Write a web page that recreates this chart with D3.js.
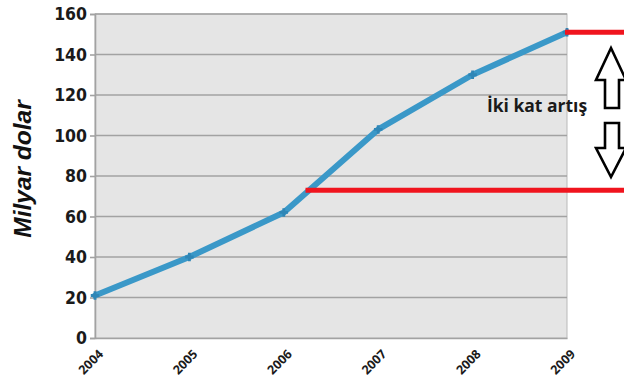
<!DOCTYPE html>
<html>
<head>
<meta charset="utf-8">
<script src="https://cdn.jsdelivr.net/npm/d3@7"></script>
<style>
  html, body { margin: 0; padding: 0; background: #fff; }
  svg { display: block; }
</style>
</head>
<body>
<svg id="chart" width="624" height="388"></svg>
<script>
// Yearly totals, billion dollars
const years = ["2004", "2005", "2006", "2007", "2008", "2009"];
const values = [21, 40, 62, 103, 130, 151];
const yTicks = [0, 20, 40, 60, 80, 100, 120, 140, 160];
const yTitle = "Milyar dolar";
const noteText = "İki kat artış";
// levels marked by the red guide lines (start and end of the doubling)
const guideLow = 73;
const guideHigh = 151;
const guideLowStart = 2006.23;

const svg = d3.select("#chart");
const margin = { left: 95, right: 57, top: 14, bottom: 50 };
const W = 624, H = 388;
const x0 = margin.left, x1 = W - margin.right;
const y0 = H - margin.bottom, y1 = margin.top;

const x = d3.scalePoint().domain(years).range([x0, x1]);
const xLin = d3.scaleLinear().domain([+years[0], +years[years.length - 1]]).range([x0, x1]);
const y = d3.scaleLinear().domain([0, 160]).range([y0, y1]);

// plot background
svg.append("rect")
  .attr("x", x0).attr("y", y1)
  .attr("width", x1 - x0).attr("height", y0 - y1)
  .attr("fill", "#e5e5e5")
  .attr("stroke", "#b9b9b9").attr("stroke-width", 1);

// gridlines
svg.append("g")
  .selectAll("line")
  .data(yTicks.filter(d => d > 0))
  .join("line")
  .attr("x1", x0).attr("x2", x1)
  .attr("y1", d => y(d)).attr("y2", d => y(d))
  .attr("stroke", "#a2a2a2").attr("stroke-width", 1.6);

// y axis
const yAxis = svg.append("g")
  .attr("transform", `translate(${x0},0)`)
  .call(d3.axisLeft(y).tickValues(yTicks).tickSize(5).tickPadding(3));
yAxis.select(".domain").attr("stroke", "#a2a2a2").attr("stroke-width", 1.6);
yAxis.selectAll(".tick line").attr("stroke", "#a2a2a2").attr("stroke-width", 1.6);
yAxis.selectAll("text")
  .attr("font-family", "'DejaVu Sans Condensed', 'DejaVu Sans', sans-serif")
  .attr("font-weight", "bold")
  .attr("font-size", 17.5)
  .attr("fill", "#1a1a1a");

// x axis: line only, slanted year labels drawn below
const xAxis = svg.append("g")
  .attr("transform", `translate(0,${y0})`)
  .call(d3.axisBottom(x).tickSize(0).tickFormat(""));
xAxis.select(".domain").attr("stroke", "#a2a2a2").attr("stroke-width", 1.6);

svg.append("g")
  .selectAll("text")
  .data(years)
  .join("text")
  .attr("transform", d => `translate(${x(d) + 9},${y0 + 17}) rotate(-45)`)
  .attr("text-anchor", "end")
  .attr("font-family", "'Open Sans', sans-serif")
  .attr("font-weight", "bold")
  .attr("font-size", 12.5)
  .attr("fill", "#1a1a1a")
  .text(d => d);

// y axis title
svg.append("text")
  .attr("transform", `translate(31,169) rotate(-90)`)
  .attr("text-anchor", "middle")
  .attr("font-family", "'Liberation Sans', Arial, sans-serif")
  .attr("font-weight", "bold")
  .attr("font-style", "italic")
  .attr("font-size", 24.5)
  .attr("fill", "#111")
  .text(yTitle);

// data line
const data = years.map((yr, i) => ({ yr, v: values[i] }));
svg.append("path")
  .datum(data)
  .attr("fill", "none")
  .attr("stroke", "#3a98c8")
  .attr("stroke-width", 6)
  .attr("stroke-linejoin", "round")
  .attr("stroke-linecap", "round")
  .attr("d", d3.line().x(d => x(d.yr)).y(d => y(d.v)));

// point markers
svg.append("g")
  .selectAll("path")
  .data(data)
  .join("path")
  .attr("transform", d => `translate(${x(d.yr)},${y(d.v)})`)
  .attr("d", d3.symbol(d3.symbolCross, 40))
  .attr("fill", "#2f86b6");

// red guide lines
svg.append("line")
  .attr("x1", xLin(guideLowStart)).attr("x2", W)
  .attr("y1", y(guideLow)).attr("y2", y(guideLow))
  .attr("stroke", "#f0141e").attr("stroke-width", 5);
svg.append("line")
  .attr("x1", x1 - 2).attr("x2", W)
  .attr("y1", y(guideHigh)).attr("y2", y(guideHigh))
  .attr("stroke", "#f0141e").attr("stroke-width", 5);

// hollow arrows
const ax = 611;
const upArrow = [[ax, 48], [ax + 15, 80], [ax + 8, 80], [ax + 8, 108], [ax - 6, 108], [ax - 6, 80], [ax - 15, 80]];
const downArrow = [[ax - 6, 123], [ax + 8, 123], [ax + 8, 148], [ax + 15, 148], [ax, 177], [ax - 15, 148], [ax - 6, 148]];
[upArrow, downArrow].forEach(pts => {
  svg.append("path")
    .attr("d", d3.line()(pts) + "Z")
    .attr("fill", "#fff")
    .attr("stroke", "#000")
    .attr("stroke-width", 2.6)
    .attr("stroke-linejoin", "miter");
});

// annotation
svg.append("text")
  .attr("x", 537).attr("y", 112)
  .attr("text-anchor", "middle")
  .attr("font-family", "'Open Sans', sans-serif")
  .attr("font-weight", "bold")
  .attr("font-size", 17.5)
  .attr("fill", "#1a1a1a")
  .text(noteText);
</script>
</body>
</html>
